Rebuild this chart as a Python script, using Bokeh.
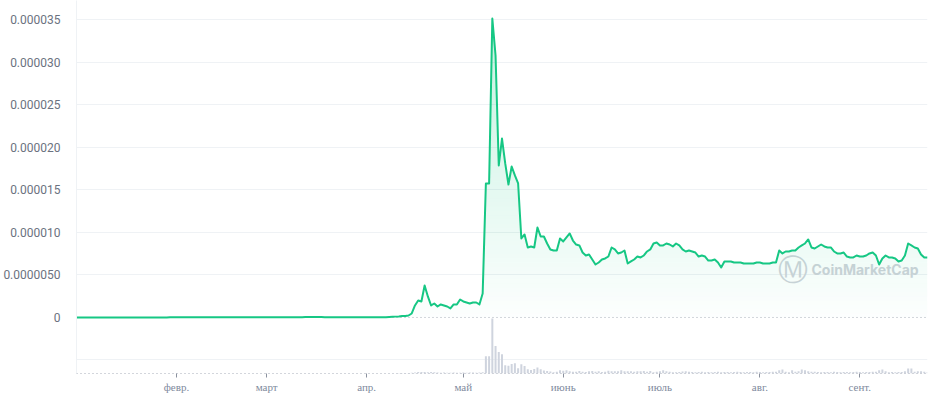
import numpy as np
import pandas as pd
from bokeh.plotting import figure
from bokeh.models import Range1d, FixedTicker, CustomJSTickFormatter, Span, Label
from bokeh.embed import file_html
from bokeh.resources import INLINE

# ---------------- data ----------------
START_DATE = "2023-01-01"

# daily price, in millionths of USD (x 1e-6)
price_micro = [
    0.00, 0.00, 0.00, 0.00, 0.00, 0.00, 0.00, 0.00, 0.00, 0.00,
    0.00, 0.00, 0.00, 0.00, 0.00, 0.00, 0.00, 0.00, 0.00, 0.00,
    0.00, 0.00, 0.00, 0.00, 0.00, 0.00, 0.00, 0.00, 0.00, 0.03,
    0.03, 0.03, 0.03, 0.03, 0.03, 0.03, 0.03, 0.03, 0.03, 0.03,
    0.03, 0.03, 0.03, 0.03, 0.03, 0.03, 0.03, 0.03, 0.03, 0.03,
    0.03, 0.03, 0.03, 0.03, 0.03, 0.03, 0.03, 0.03, 0.03, 0.03,
    0.03, 0.03, 0.03, 0.03, 0.03, 0.03, 0.03, 0.03, 0.03, 0.03,
    0.03, 0.06, 0.06, 0.06, 0.06, 0.06, 0.06, 0.04, 0.04, 0.04,
    0.04, 0.04, 0.04, 0.04, 0.04, 0.04, 0.04, 0.04, 0.04, 0.04,
    0.04, 0.04, 0.04, 0.04, 0.04, 0.04, 0.04, 0.06, 0.08, 0.10,
    0.12, 0.18, 0.18, 0.23, 0.47, 1.41, 2.00, 1.88, 3.76, 2.47,
    1.41, 1.64, 1.29, 1.53, 1.41, 1.29, 1.06, 1.53, 1.53, 2.11,
    1.88, 1.76, 1.64, 1.76, 1.76, 1.53, 2.82, 15.74, 15.74, 35.12,
    30.77, 17.85, 21.02, 18.09, 15.62, 17.73, 16.68, 15.74, 9.28, 9.75,
    8.22, 8.34, 8.22, 10.57, 9.51, 9.51, 8.69, 7.99, 7.87, 7.87,
    9.28, 8.93, 9.40, 9.87, 9.04, 8.57, 8.46, 7.63, 7.28, 7.40,
    6.81, 6.22, 6.46, 6.81, 6.93, 7.16, 8.22, 7.99, 7.52, 7.63,
    7.87, 6.34, 6.58, 6.81, 7.16, 7.05, 7.28, 7.75, 7.99, 8.69,
    8.81, 8.46, 8.46, 8.69, 8.57, 8.34, 8.69, 8.46, 7.99, 7.75,
    7.87, 7.75, 7.63, 7.16, 7.28, 7.16, 6.69, 6.69, 6.81, 6.46,
    5.87, 6.58, 6.58, 6.58, 6.46, 6.46, 6.46, 6.34, 6.34, 6.34,
    6.34, 6.46, 6.46, 6.34, 6.34, 6.34, 6.46, 6.46, 7.87, 7.52,
    7.75, 7.75, 7.87, 7.87, 8.22, 8.46, 8.69, 9.16, 8.22, 8.10,
    8.34, 8.57, 8.34, 8.22, 8.22, 7.75, 7.52, 7.52, 7.63, 7.16,
    7.05, 7.05, 7.28, 7.16, 7.16, 7.28, 7.52, 7.63, 7.28, 6.22,
    6.93, 7.28, 7.05, 7.05, 6.93, 6.58, 6.69, 7.28, 8.69, 8.46,
    8.22, 8.10, 7.40, 7.05, 7.05,
]

# daily volume (arbitrary units, thousands of USD)
volume = [
    0.1, 0.1, 0.1, 0.1, 0.1, 0.1, 0.1, 0.1, 0.1, 0.1,
    0.1, 0.1, 0.1, 0.1, 0.1, 0.1, 0.1, 0.1, 0.1, 0.1,
    0.1, 0.1, 0.1, 0.1, 0.1, 0.1, 0.1, 0.1, 0.1, 0.1,
    0.1, 0.1, 0.1, 0.1, 0.1, 0.1, 0.1, 0.1, 0.1, 0.1,
    0.1, 0.1, 0.1, 0.1, 0.1, 0.1, 0.1, 0.1, 0.1, 0.1,
    0.1, 0.1, 0.1, 0.1, 0.1, 0.1, 0.1, 0.1, 0.1, 0.1,
    0.1, 0.1, 0.1, 0.1, 0.1, 0.1, 0.1, 0.1, 0.1, 0.1,
    0.1, 0.1, 0.1, 0.1, 0.1, 0.1, 0.1, 0.1, 0.1, 0.1,
    0.1, 0.1, 0.1, 0.1, 0.1, 0.1, 0.1, 0.1, 0.1, 0.1,
    0.1, 0.1, 0.1, 0.1, 0.1, 0.1, 0.1, 0.1, 0.1, 0.1,
    0.5, 0.5, 0.5, 0.5, 0.7, 1.0, 1.5, 1.5, 1.5, 1.3,
    1.5, 1.3, 1.0, 0.8, 1.0, 0.8, 0.8, 1.0, 0.8, 0.8,
    1.0, 0.8, 1.0, 1.0, 0.8, 1.0, 1.3,
    17.3, 17.3, 55.0, 27.5, 21.5, 19.3, 8.3, 7.8, 9.5, 10.3,
    5.3, 9.3, 7.5, 4.3, 3.5, 4.5, 6.0, 4.2, 3.0, 2.5,
    2.0, 1.2, 1.8, 3.3, 2.7, 3.3, 2.3, 1.7, 1.8, 2.5,
    1.8, 1.5, 2.3, 2.5, 1.7, 2.3, 1.5, 1.7, 2.7, 2.3,
    2.3, 2.3, 3.3, 2.3, 2.3, 2.3, 1.7, 2.3, 2.3, 2.5,
    1.7, 2.5, 1.3, 1.7, 2.3, 3.3, 2.3, 1.7, 1.3, 1.3,
    1.5, 2.0, 2.3, 1.7, 1.5, 1.3, 1.5, 1.7, 1.3, 1.5,
    1.3, 1.5, 1.7, 1.3, 1.5, 1.5, 1.3, 1.5, 1.7, 1.5,
    1.3, 1.5, 1.5, 1.3, 1.7, 1.5, 1.3, 1.5, 1.5, 1.7,
    1.7, 3.3, 4.0, 1.7, 1.2, 3.3, 1.7, 2.3, 4.0, 3.3,
    2.3, 1.7, 1.7, 1.5, 1.3, 1.5, 1.5, 1.3, 1.7, 1.5,
    1.3, 1.5, 1.5, 1.3, 1.5, 1.7, 1.5, 1.3, 1.5, 1.5,
    1.7, 1.7, 3.3, 4.0, 2.3, 1.3, 1.5, 1.3, 1.5, 1.5,
    2.3, 5.0, 5.0, 1.7, 2.3, 2.3, 1.7, 1.3,
]

month_ticks = ["2023-02-01", "2023-03-01", "2023-04-01", "2023-05-01",
               "2023-06-01", "2023-07-01", "2023-08-01", "2023-09-01"]
month_labels = ["февр.", "март", "апр.", "май", "июнь", "июль", "авг.", "сент."]

y_ticks_micro = [0, 5, 10, 15, 20, 25, 30, 35]
y_tick_labels = ["0", "0.0000050", "0.000010", "0.000015", "0.000020",
                 "0.000025", "0.000030", "0.000035"]

assert len(price_micro) == len(volume), (len(price_micro), len(volume))

# ---------------- layout / style ----------------
GREEN = "#16c784"
GRID = "#eff2f5"
DOT = "#a7adb8"
P_TOP = 37.23e-6
P_BOT = -6.58e-6
VOL_TOP = 56.0
VOL_GRID = 14.0

dates = pd.date_range(START_DATE, periods=len(price_micro), freq="D")
price = np.array(price_micro) * 1e-6
vol = np.array(volume)

p = figure(width=928, height=398, x_axis_type="datetime",
           x_range=Range1d(dates[0], dates[-1]),
           y_range=Range1d(P_BOT, P_TOP),
           output_backend="svg", toolbar_location=None,
           min_border_left=76, min_border_right=1,
           min_border_top=0, min_border_bottom=25)
p.outline_line_color = None
p.background_fill_color = "white"
p.border_fill_color = "white"

# volume range occupies the part of the frame below price zero
frac = (0 - P_BOT) / (P_TOP - P_BOT)
p.extra_y_ranges = {"vol": Range1d(0, VOL_TOP / frac)}

# grids
p.xgrid.visible = False
p.ygrid.ticker = FixedTicker(ticks=[t * 1e-6 for t in y_ticks_micro if t > 0])
p.ygrid.grid_line_color = GRID
p.ygrid.grid_line_width = 1

p.add_layout(Span(location=VOL_GRID, dimension="width", y_range_name="vol",
                  line_color=GRID, line_width=1, level="underlay"))
p.add_layout(Span(location=0, dimension="width", line_color=DOT,
                  line_dash="1 3", line_width=1, level="underlay"))

# watermark
p.add_layout(Label(x=716, y=104, x_units="screen", y_units="screen", text="Ⓜ",
                   text_font="DejaVu Sans", text_font_size="30px",
                   text_color="#cfd3da", text_align="center",
                   text_baseline="middle", level="underlay"))
p.add_layout(Label(x=735, y=104, x_units="screen", y_units="screen",
                   text="CoinMarketCap", text_font="Inter",
                   text_font_style="bold", text_font_size="14px",
                   text_color="#cfd3da", text_baseline="middle",
                   level="underlay"))

# gradient fill under the line (vertical bands)
edges = np.arange(0, 36.5, 0.5) * 1e-6
for lo, hi in zip(edges[:-1], edges[1:]):
    mid = (lo + hi) / 2 / 1e-6
    alpha = 0.012 + 0.24 * mid / 35.0
    p.varea(x=dates, y1=np.minimum(price, lo), y2=np.minimum(price, hi),
            fill_color=GREEN, fill_alpha=alpha)

# volume bars
p.vbar(x=dates, top=vol, width=0.62 * 86400000, y_range_name="vol",
       fill_color="#cfd4de", line_color=None)

# price line
p.line(dates, price, line_color=GREEN, line_width=2, line_join="round")

# y axis
p.yaxis.ticker = FixedTicker(ticks=[t * 1e-6 for t in y_ticks_micro])
p.yaxis.formatter = CustomJSTickFormatter(
    args=dict(ylabels=y_tick_labels, ystep=5e-6),
    code="const i = Math.round(tick / ystep); return (i >= 0 && i < ylabels.length) ? ylabels[i] : '';")
p.yaxis.major_tick_line_color = None
p.yaxis.minor_tick_line_color = None
p.yaxis.axis_line_color = GRID
p.yaxis.major_label_text_font = "Roboto"
p.yaxis.major_label_text_font_size = "12px"
p.yaxis.major_label_text_color = "#6b7280"
p.yaxis.major_label_standoff = 10

# x axis
tick_ms = [pd.Timestamp(t).value // 10**6 for t in month_ticks]
p.xaxis.ticker = FixedTicker(ticks=tick_ms)
p.xaxis.formatter = CustomJSTickFormatter(
    args=dict(month_ms=tick_ms, month_names=month_labels),
    code="""
let best = 0, bd = Infinity;
for (let i = 0; i < month_ms.length; i++) {
  const d = Math.abs(month_ms[i] - tick);
  if (d < bd) { bd = d; best = i; }
}
return month_names[best];
""")
p.xaxis.axis_line_color = DOT
p.xaxis.axis_line_dash = "1 3"
p.xaxis.major_tick_line_color = "#8a919e"
p.xaxis.major_tick_out = 4
p.xaxis.major_tick_in = 0
p.xaxis.minor_tick_line_color = None
p.xaxis.major_label_text_font = "Liberation Serif"
p.xaxis.major_label_text_font_size = "11px"
p.xaxis.major_label_text_color = "#808a9d"
p.xaxis.major_label_standoff = 3

open("out.html", "w").write(file_html(p, INLINE))
